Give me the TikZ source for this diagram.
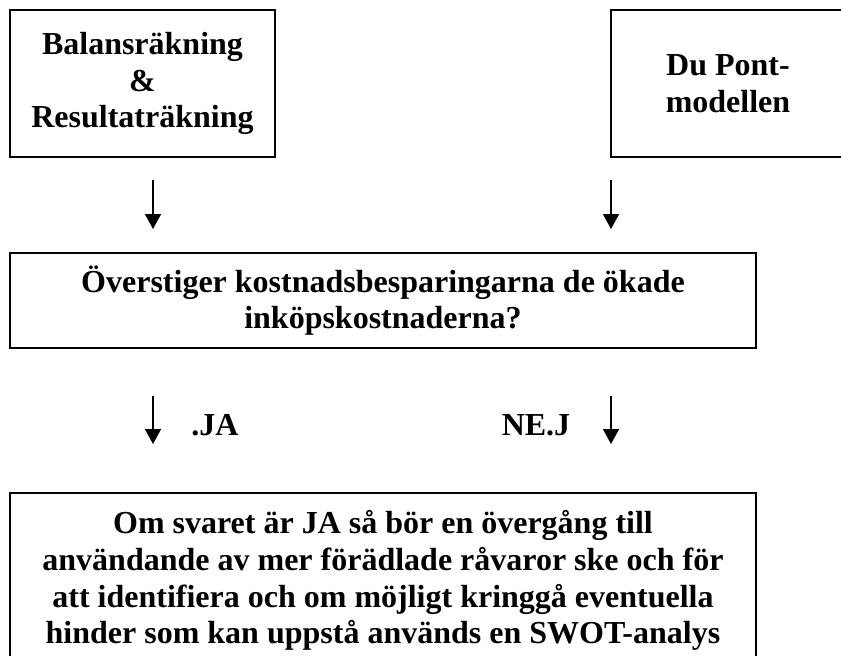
\documentclass[tikz,border=0pt]{standalone}
\usepackage{fontspec}
\setmainfont{Liberation Serif}
\usetikzlibrary{arrows.meta}
\tikzset{ flow_box/.style = {rectangle, draw, line width=1pt, align=center, inner sep=0pt, font=\bfseries\fontsize{16}{18.4}\selectfont} }
\tikzset{ flow_arrow/.style = {-{Triangle[width=8pt,length=7.5pt]}, line width=0.7pt} }
\tikzset{ answer/.style = {font=\bfseries\fontsize{16}{18.4}\selectfont} }

\begin{document}
\begin{tikzpicture}[x=0.5pt,y=-0.5pt]
    \useasboundingbox (0,0) rectangle (841,655);
    % top row
    \node[flow_box, minimum width=132.5pt, minimum height=73.5pt] (bal) at (142.5,83.5) {Balansräkning\\\&\\Resultaträkning};
    \node[flow_box, minimum width=117pt, minimum height=73.5pt] (dupont) at (728,83.5) {Du Pont-\\modellen};
    % question
    \node[flow_box, minimum width=373pt, minimum height=47.5pt] (fraga) at (383,300.5) {Överstiger kostnadsbesparingarna de ökade\\inköpskostnaderna?};
    % answer
    \node[flow_box, minimum width=373pt, minimum height=87.5pt] (svar) at (383,580.5) {Om svaret är JA så bör en övergång till\\användande av mer förädlade råvaror ske och för\\att identifiera och om möjligt kringgå eventuella\\hinder som kan uppstå används en SWOT-analys};
    \coordinate (bal_ut) at (153,180);
    \coordinate (bal_in) at (153,229);
    \coordinate (dp_ut) at (611,180);
    \coordinate (dp_in) at (611,229);
    \coordinate (ja_ut) at (153,396);
    \coordinate (ja_in) at (153,444);
    \coordinate (nej_ut) at (611,396);
    \coordinate (nej_in) at (611,444);
    \draw[flow_arrow] (bal_ut) -- (bal_in);
    \draw[flow_arrow] (dp_ut) -- (dp_in);
    \draw[flow_arrow] (ja_ut) -- (ja_in);
    \draw[flow_arrow] (nej_ut) -- (nej_in);
    \node[answer] (ja) at (215,425) {.JA};
    \node[answer] (nej) at (536,425) {NE.J};
\end{tikzpicture}
\end{document}
